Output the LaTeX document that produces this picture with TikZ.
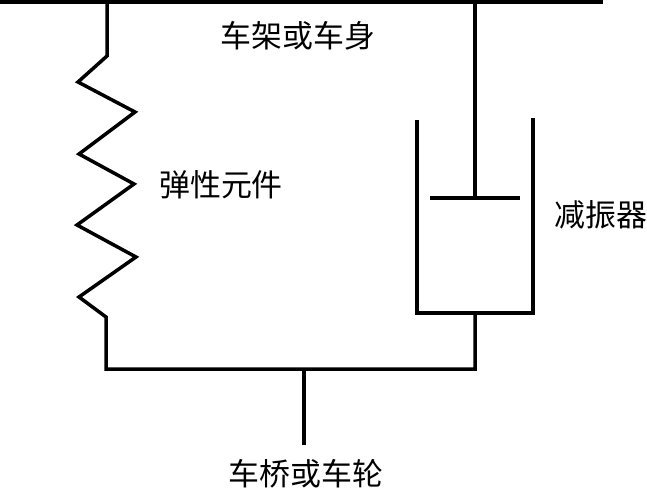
\documentclass[tikz,border=0pt]{standalone}
\usepackage{fontspec}
\setmainfont{Noto Sans CJK SC}
\usepackage{tikz}
\usetikzlibrary{positioning}

\begin{document}
\begin{tikzpicture}[x=0.02cm, y=-0.02cm,
    every node/.style={font=\fontsize{17.6pt}{20pt}\selectfont, inner sep=0pt},
    line/.style={draw=black, line width=0.07cm, line join=miter},
    bar/.style={draw=black, line width=0.08cm}]
\useasboundingbox (0,0) rectangle (647,490);
% frame and axle
\coordinate (barL) at (0,2);
\coordinate (barR) at (603,2);
\coordinate (sprO) at (107,2);
\coordinate (rodT) at (475,2);
\coordinate (rodB) at (475,198);
\coordinate (pistonL) at (430,198);
\coordinate (pistonR) at (520,198);
\coordinate (cylTL) at (417,120);
\coordinate (cylBL) at (417,313);
\coordinate (cylBR) at (533,313);
\coordinate (cylTR) at (533,118);
\coordinate (cylB) at (475,313);
\coordinate (axleL) at (106,369);
\coordinate (axleR) at (475,369);
\coordinate (axleM) at (304,369);
\coordinate (axleB) at (304,445);
\coordinate (sprT) at (107,56);
\coordinate (sprB) at (106,317);
% labels
\node (frame) at (298,36) {车架或车身};
\node (spring) at (221,185) {弹性元件};
\node (damper) at (601,215) {减振器};
\node (wheel) at (306,474) {车桥或车轮};
\draw[bar] (barL) -- (barR);
\draw[line] (sprO) -- (sprT) -- (78,82) -- (135,112) -- (79,154) -- (134,184)
    -- (77,225) -- (136,257) -- (79,297) -- (sprB) -- (axleL) -- (axleR) -- (cylB);
\draw[line] (rodT) -- (rodB);
\draw[line] (pistonL) -- (pistonR);
\draw[line] (cylTL) -- (cylBL) -- (cylBR) -- (cylTR);
\draw[line] (axleM) -- (axleB);
\end{tikzpicture}
\end{document}
